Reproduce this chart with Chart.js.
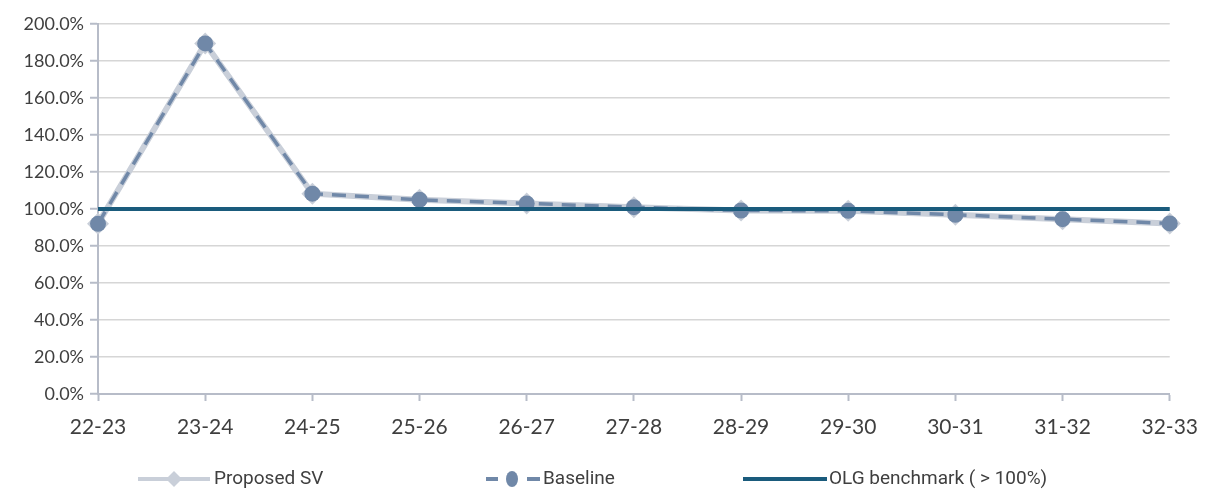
<!DOCTYPE html>
<html>
<head>
<meta charset="utf-8">
<script src="https://cdn.jsdelivr.net/npm/chart.js@4.4.1/dist/chart.umd.min.js"></script>
<style>
  html, body { margin: 0; padding: 0; background: #ffffff; }
  #wrap { width: 1212px; height: 490px; position: relative; }
</style>
</head>
<body>
<div id="wrap"><canvas id="chart" width="1212" height="490"></canvas></div>
<script>
// Financial years along the x axis
const categories = ['22-23', '23-24', '24-25', '25-26', '26-27', '27-28', '28-29', '29-30', '30-31', '31-32', '32-33'];

// Ratio series, in percent
const proposedSV = [92.0, 189.5, 108.3, 105.0, 103.0, 101.0, 99.2, 99.0, 96.9, 94.5, 92.2];
const baseline   = [92.0, 189.5, 108.3, 105.0, 103.0, 101.0, 99.2, 99.0, 96.9, 94.5, 92.2];
const olgBenchmark = [100, 100, 100, 100, 100, 100, 100, 100, 100, 100, 100];

// Legend entries
const legendLabels = ['Proposed SV', 'Baseline', 'OLG benchmark ( > 100%)'];

const COL_LIGHT = '#c9cfd9';
const COL_SLATE = '#7088a8';
const COL_TEAL  = '#1a5b7c';
const COL_AXIS  = '#b7bcc8';
const COL_GRID  = '#d6d6d6';
const COL_TEXT  = '#3f3f3f';

// Legend drawn beneath the plot: line sample, marker and label for each series
const bottomLegend = {
  id: 'bottomLegend',
  afterDraw(chart) {
    const ctx = chart.ctx;
    const y = 479;
    ctx.save();
    ctx.lineCap = 'butt';

    // Proposed SV
    ctx.strokeStyle = COL_LIGHT;
    ctx.lineWidth = 4;
    ctx.beginPath(); ctx.moveTo(138, y); ctx.lineTo(210, y); ctx.stroke();
    ctx.fillStyle = COL_LIGHT;
    ctx.beginPath();
    ctx.moveTo(174, y - 8); ctx.lineTo(182, y); ctx.lineTo(174, y + 8); ctx.lineTo(166, y);
    ctx.closePath(); ctx.fill();

    // Baseline
    ctx.strokeStyle = COL_SLATE;
    ctx.lineWidth = 4;
    ctx.beginPath(); ctx.moveTo(486, y); ctx.lineTo(498, y); ctx.stroke();
    ctx.beginPath(); ctx.moveTo(527, y); ctx.lineTo(540, y); ctx.stroke();
    ctx.fillStyle = COL_SLATE;
    ctx.beginPath(); ctx.ellipse(512, y, 6, 8, 0, 0, Math.PI * 2); ctx.fill();

    // OLG benchmark
    ctx.strokeStyle = COL_TEAL;
    ctx.lineWidth = 4;
    ctx.beginPath(); ctx.moveTo(743, y); ctx.lineTo(827, y); ctx.stroke();

    ctx.fillStyle = COL_TEXT;
    ctx.font = '19px Roboto';
    ctx.textBaseline = 'middle';
    ctx.textAlign = 'left';
    ctx.fillText(legendLabels[0], 214, y);
    ctx.fillText(legendLabels[1], 543, y);
    ctx.fillText(legendLabels[2], 829, y);
    ctx.restore();
  }
};

new Chart(document.getElementById('chart'), {
  type: 'line',
  data: {
    labels: categories,
    datasets: [
      {
        label: legendLabels[0],
        data: proposedSV,
        borderColor: COL_LIGHT,
        backgroundColor: COL_LIGHT,
        borderWidth: 6,
        pointStyle: 'rectRot',
        pointRadius: 11,
        pointBorderWidth: 0,
        pointBackgroundColor: COL_LIGHT,
        tension: 0,
        clip: false,
        order: 3
      },
      {
        label: legendLabels[1],
        data: baseline,
        borderColor: COL_SLATE,
        backgroundColor: COL_SLATE,
        borderWidth: 3.5,
        borderDash: [14, 9],
        pointStyle: 'circle',
        pointRadius: 8,
        pointBorderWidth: 0,
        pointBackgroundColor: COL_SLATE,
        tension: 0,
        clip: false,
        order: 2
      },
      {
        label: legendLabels[2],
        data: olgBenchmark,
        borderColor: COL_TEAL,
        backgroundColor: COL_TEAL,
        borderWidth: 4,
        pointRadius: 0,
        tension: 0,
        clip: false,
        order: 1
      }
    ]
  },
  options: {
    responsive: false,
    animation: false,
    events: [],
    layout: { padding: { top: 24, right: 40, bottom: 0, left: 0 } },
    plugins: {
      legend: { display: false },
      tooltip: { enabled: false }
    },
    scales: {
      x: {
        offset: false,
        afterFit(scale) { scale.height = 96; },
        grid: {
          drawOnChartArea: false,
          drawTicks: true,
          tickLength: 7,
          tickColor: COL_AXIS,
          tickWidth: 2
        },
        border: { color: COL_AXIS, width: 2 },
        ticks: {
          color: COL_TEXT,
          font: { family: 'Lato', size: 21 },
          padding: 14,
          maxRotation: 0,
          autoSkip: false
        }
      },
      y: {
        min: 0,
        max: 200,
        afterFit(scale) { scale.width = 98; },
        grid: {
          color: COL_GRID,
          lineWidth: 1.5,
          drawTicks: true,
          tickLength: 8,
          tickColor: COL_AXIS,
          tickWidth: 2
        },
        border: { color: COL_AXIS, width: 2 },
        ticks: {
          stepSize: 20,
          color: COL_TEXT,
          font: { family: 'Lato', size: 18 },
          padding: 6,
          callback: (v) => v.toFixed(1) + '%'
        }
      }
    }
  },
  plugins: [bottomLegend]
});
</script>
</body>
</html>
